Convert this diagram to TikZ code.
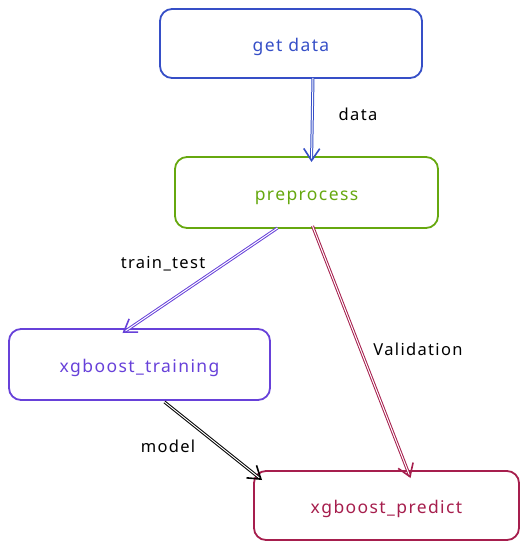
\documentclass[tikz,border=0pt]{standalone}
\usepackage{fontspec}
\setmainfont{Noto Sans}[LetterSpace=8]
\usetikzlibrary{arrows.meta}

\definecolor{exblue}{HTML}{364FC7}
\definecolor{exgreen}{HTML}{66A80F}
\definecolor{exviolet}{HTML}{6741D9}
\definecolor{excrimson}{HTML}{A61E4D}

\tikzset{
  stage/.style={draw,rounded corners=12pt,line width=1.8pt,minimum width=262pt,
    minimum height=69pt,inner sep=0pt,outer sep=0pt,text height=16pt,text depth=0pt,
    font=\fontsize{17.5}{19}\selectfont},
  flow/.style={double=white,double distance=1pt,line width=1pt,
    -{Straight Barb[length=12pt,width=16pt,line width=1.6pt]}},
  tag/.style={font=\fontsize{16.5}{18}\selectfont}
}

\begin{document}
\begin{tikzpicture}[x=1pt,y=-1pt]
  \useasboundingbox (0,0) rectangle (529,549);
  \node[stage,exblue] (getdata) at (291,43.5) {get data};
  \node[stage,exgreen,minimum width=263pt,minimum height=71pt] (prep) at (306.5,192.5) {preprocess};
  \node[stage,exviolet,minimum width=261pt,minimum height=71pt] (train) at (139.5,364.5) {xgboost\_training};
  \node[stage,excrimson,minimum width=265pt] (predict) at (386.5,505.5) {xgboost\_predict};
  \node[tag] (ldata) at (358,114) {data};
  \node[tag] (ltrain) at (163,264) {train\_test};
  \node[tag] (lvalid) at (418,349) {Validation};
  \node[tag] (lmodel) at (168,446) {model};
  \draw[flow,exblue] ([xshift=22pt]getdata.south) -- ([xshift=5pt,yshift=-5pt]prep.north);
  \draw[flow,exviolet] ([xshift=-29pt]prep.south) -- ([xshift=-17pt,yshift=-4pt]train.north);
  \draw[flow,excrimson] ([xshift=6pt,yshift=2pt]prep.south) -- ([xshift=24pt,yshift=-7pt]predict.north);
  \draw[flow,black] ([xshift=25pt,yshift=-2pt]train.south) -- ([xshift=8pt,yshift=-9pt]predict.north west);
\end{tikzpicture}
\end{document}
